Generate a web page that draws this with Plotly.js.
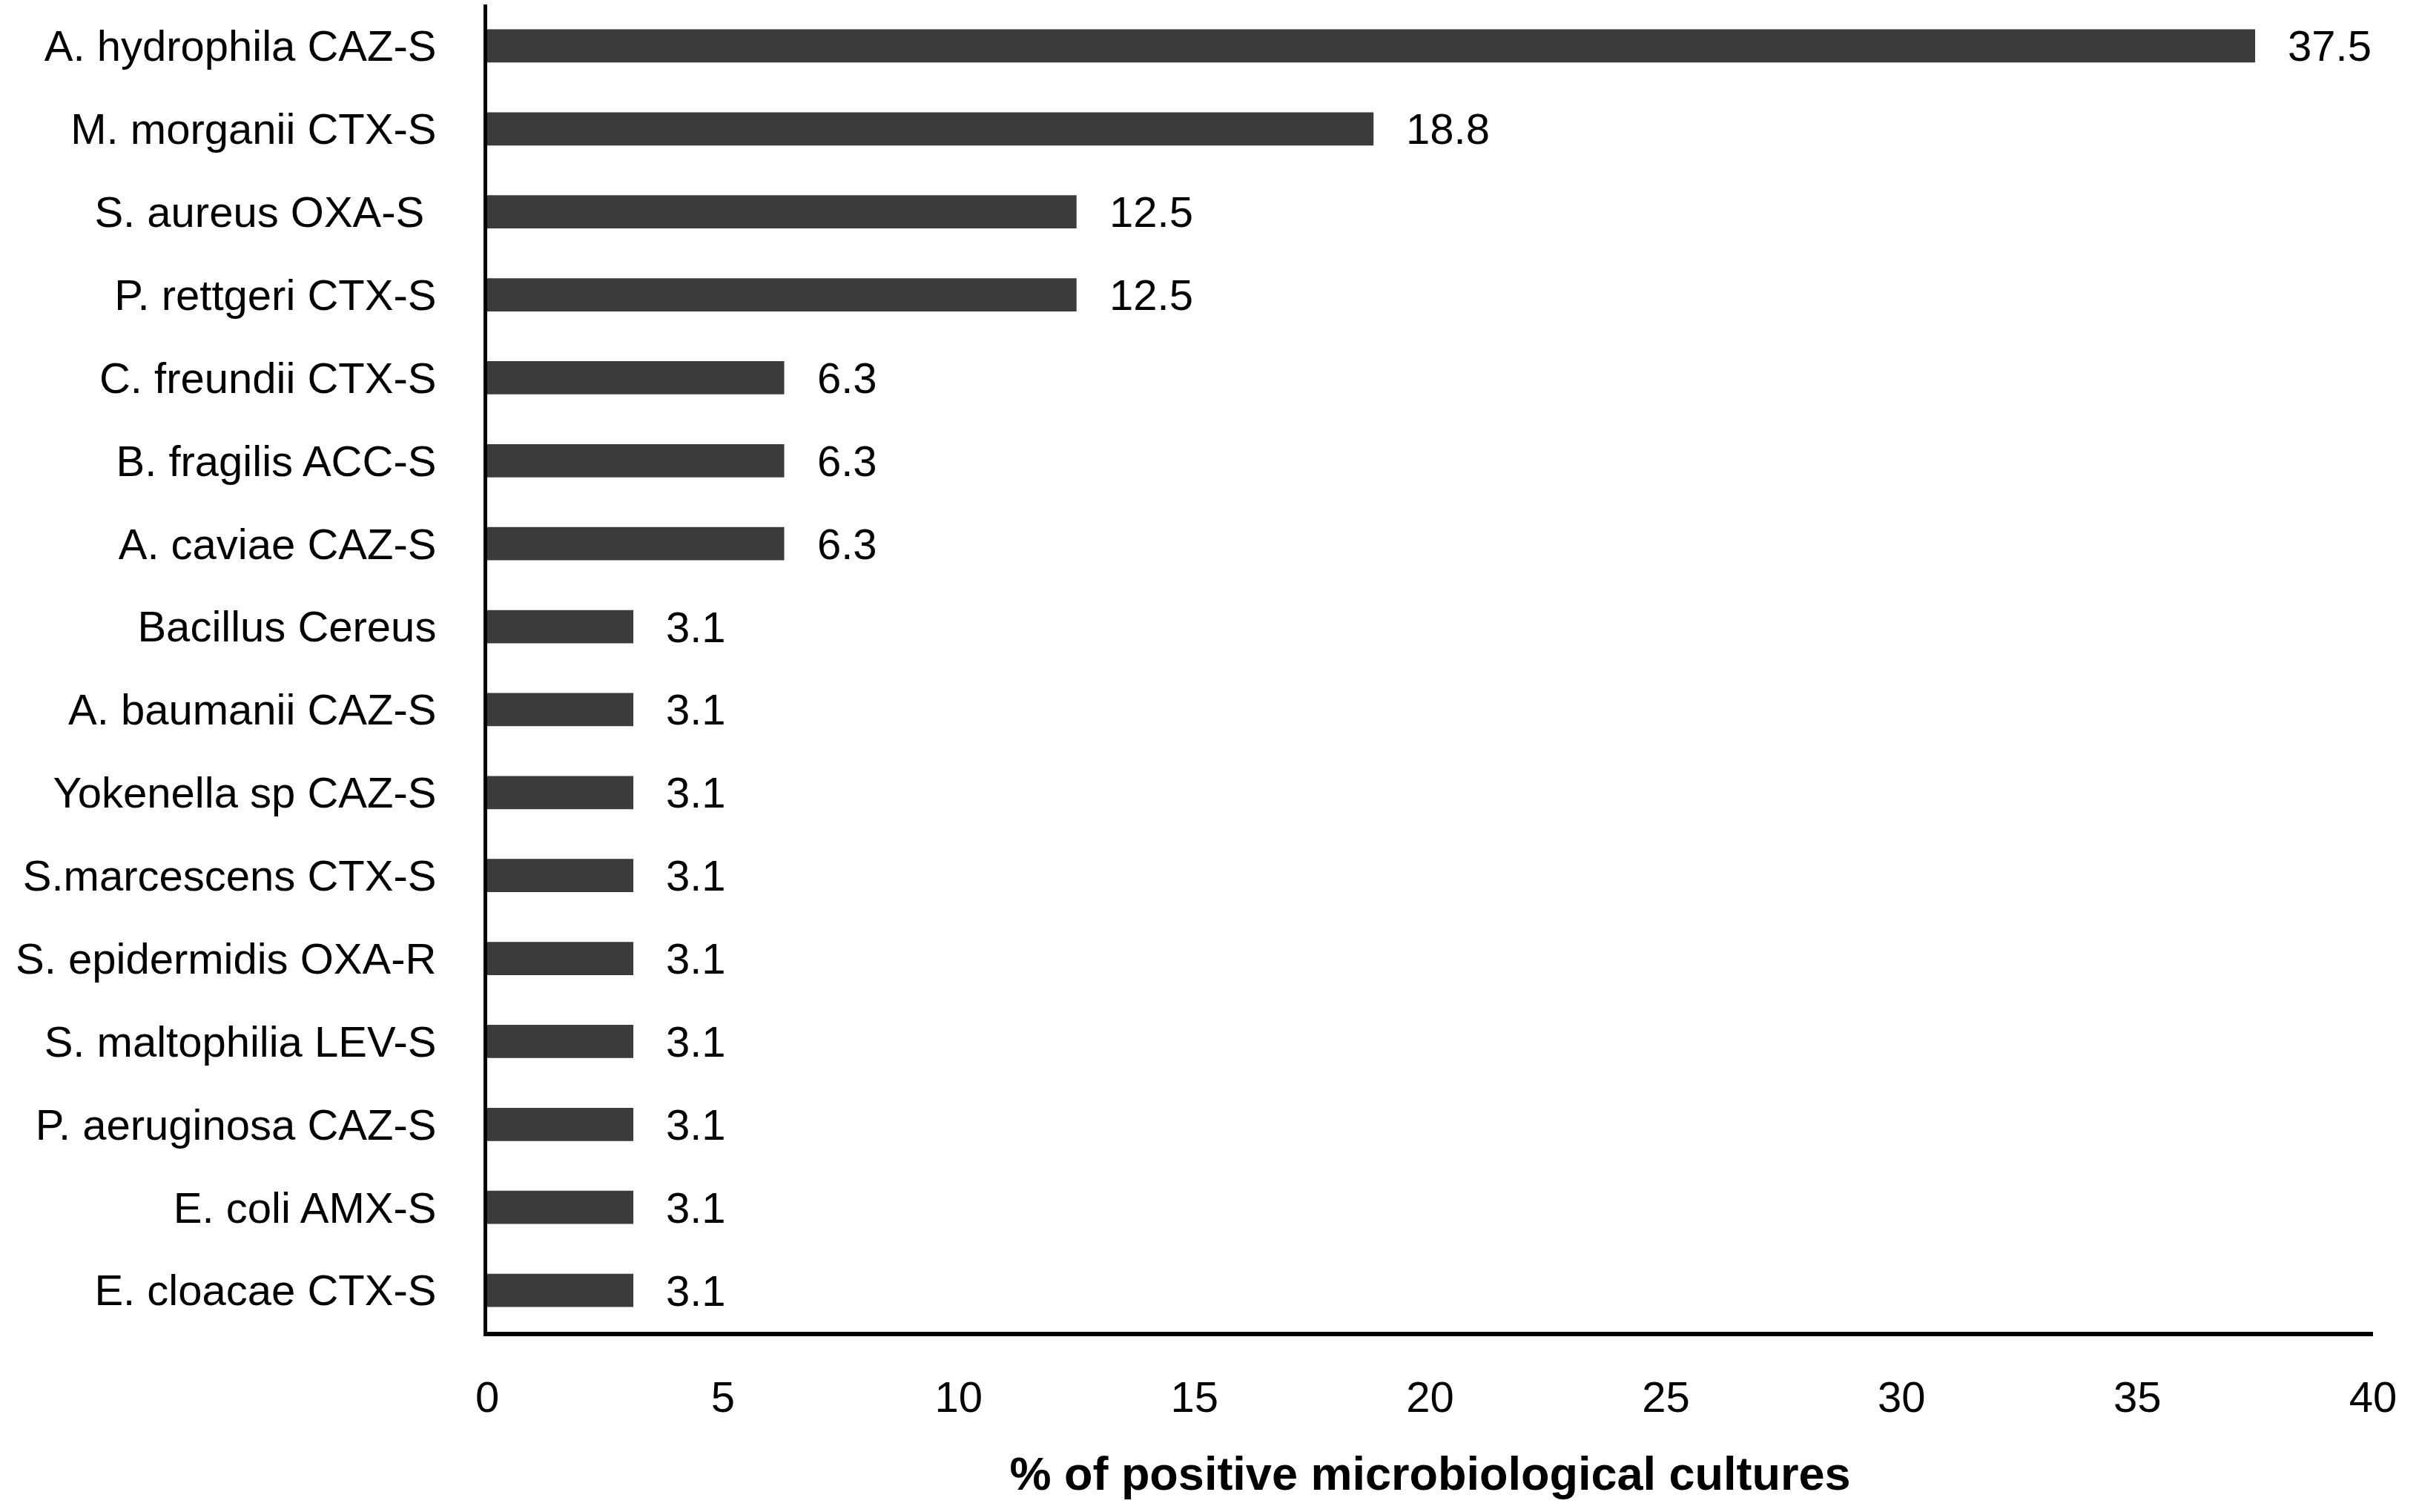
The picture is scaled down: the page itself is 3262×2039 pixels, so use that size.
<!DOCTYPE html>
<html>
<head>
<meta charset="utf-8">
<script src="https://cdn.plot.ly/plotly-3.0.1.min.js"></script>
<style>
html,body{margin:0;padding:0;background:#fff;}
#chart{width:3262px;height:2039px;}
</style>
</head>
<body>
<div id="chart"></div>
<script>
const categories = [
  "A. hydrophila CAZ-S",
  "M. morganii CTX-S",
  "S. aureus OXA-S\u00a0",
  "P. rettgeri CTX-S",
  "C. freundii CTX-S",
  "B. fragilis ACC-S",
  "A. caviae CAZ-S",
  "Bacillus Cereus",
  "A. baumanii CAZ-S",
  "Yokenella sp CAZ-S",
  "S.marcescens CTX-S",
  "S. epidermidis OXA-R",
  "S. maltophilia LEV-S",
  "P. aeruginosa CAZ-S",
  "E. coli AMX-S",
  "E. cloacae CTX-S"
];
const values = [37.5, 18.8, 12.5, 12.5, 6.3, 6.3, 6.3, 3.1, 3.1, 3.1, 3.1, 3.1, 3.1, 3.1, 3.1, 3.1];
const xTicks = [0, 5, 10, 15, 20, 25, 30, 35, 40];
const xTitle = "% of positive microbiological cultures";

const FONT = "Liberation Sans, Arial, sans-serif";

const trace = {
  type: "bar",
  orientation: "h",
  x: values,
  y: categories,
  marker: {color: "#3b3b3b", line: {width: 0}},
  hoverinfo: "none"
};

const annotations = values.map((v, i) => ({
  x: v,
  y: categories[i],
  xref: "x",
  yref: "y",
  text: v.toFixed(1),
  showarrow: false,
  xanchor: "left",
  yanchor: "middle",
  xshift: 42,
  font: {family: FONT, size: 58, color: "#000"}
}));

const layout = {
  width: 3262,
  height: 2039,
  paper_bgcolor: "#fff",
  plot_bgcolor: "#fff",
  margin: {l: 657, r: 62, t: 6, b: 243},
  showlegend: false,
  bargap: 0.6,
  font: {family: FONT, size: 58, color: "#000"},
  xaxis: {
    range: [0, 40],
    tickvals: xTicks,
    ticktext: xTicks.map(String),
    showgrid: false,
    zeroline: false,
    showline: true,
    linecolor: "#000",
    linewidth: 6,
    ticks: "",
    ticklabelstandoff: 32,
    tickfont: {family: FONT, size: 58, color: "#000"},
    title: {text: "<b>" + xTitle + "</b>", font: {family: FONT, size: 63, color: "#000"}, standoff: 52},
    fixedrange: true
  },
  yaxis: {
    type: "category",
    autorange: "reversed",
    showgrid: false,
    zeroline: false,
    showline: true,
    linecolor: "#000",
    linewidth: 5,
    ticks: "",
    ticklabelstandoff: 52,
    tickfont: {family: FONT, size: 58, color: "#000"},
    fixedrange: true
  },
  annotations: annotations
};

Plotly.newPlot("chart", [trace], layout, {staticPlot: true, displayModeBar: false});
</script>
</body>
</html>
